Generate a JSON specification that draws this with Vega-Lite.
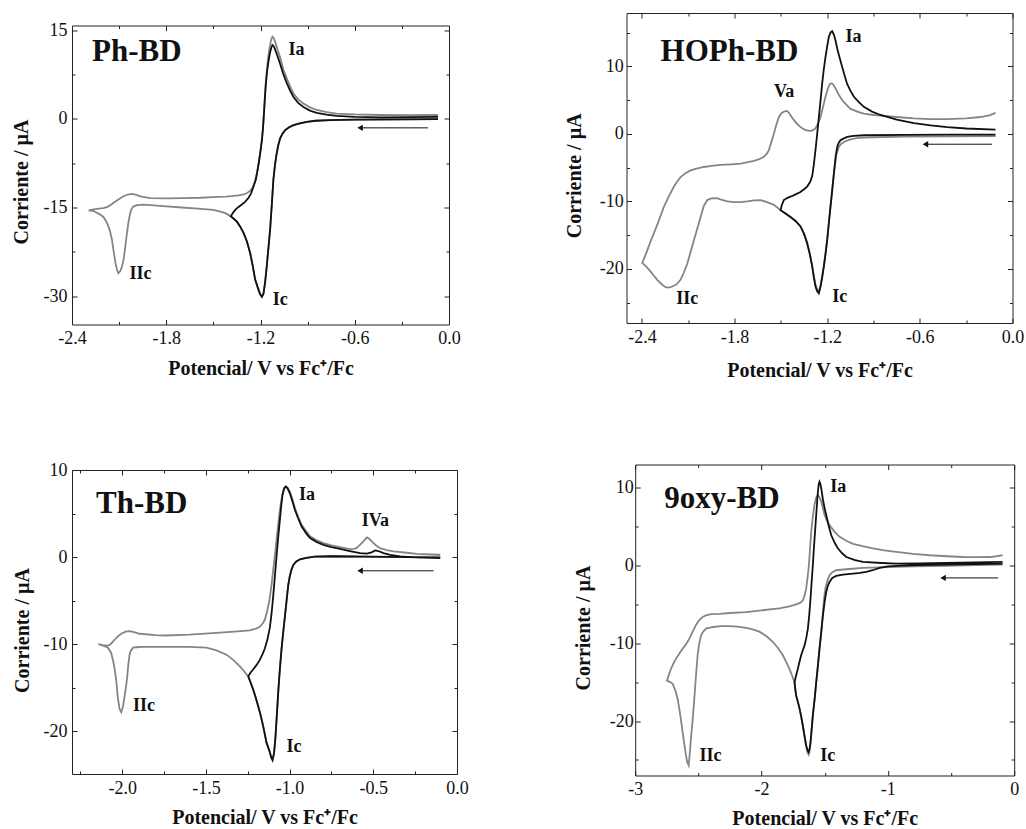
{
"$schema":"https://vega.github.io/schema/vega-lite/v6.json",
"padding":{"left":11,"top":12,"right":4,"bottom":0},
"spacing":94.5,
"hconcat":[
{"spacing":81,"vconcat":[
 {"bounds":"flush","spacing":11.5,"vconcat":[
  {"width":1,"height":1,"data":{"values":[]},"mark":"point","view":{"stroke":null}},
  {"width":377,"height":299,"resolve":{"axis":{"x":"independent","y":"independent"}},
   "layer":[
    {"data":{"values":[
{"x":-0.07,"y":-0.03},{"x":-0.3,"y":-0.07},{"x":-0.6,"y":-0.12},{"x":-0.757,"y":-0.2},{"x":-0.85,"y":-0.32},{"x":-0.905,"y":-0.5},{"x":-0.95,"y":-0.75},{"x":-0.99,"y":-1.06},{"x":-1.02,"y":-1.45},{"x":-1.043,"y":-1.9},{"x":-1.06,"y":-2.5},{"x":-1.075,"y":-3.3},{"x":-1.088,"y":-4.6},{"x":-1.1,"y":-6.3},{"x":-1.11,"y":-8.3},{"x":-1.118,"y":-10.3},{"x":-1.128,"y":-14.5},{"x":-1.139,"y":-18.8},{"x":-1.15,"y":-22.0},{"x":-1.16,"y":-24.9},{"x":-1.17,"y":-27.5},{"x":-1.181,"y":-29.6},{"x":-1.191,"y":-30.1},{"x":-1.202,"y":-29.7},{"x":-1.213,"y":-28.9},{"x":-1.234,"y":-27.2},{"x":-1.25,"y":-24.8},{"x":-1.266,"y":-22.7},{"x":-1.287,"y":-20.7},{"x":-1.308,"y":-19.3},{"x":-1.33,"y":-18.2},{"x":-1.35,"y":-17.4},{"x":-1.37,"y":-16.9},{"x":-1.389,"y":-16.5},
{"x":-1.42,"y":-16.0},{"x":-1.455,"y":-15.7},{"x":-1.5,"y":-15.4},{"x":-1.6,"y":-15.2},{"x":-1.7,"y":-15.0},{"x":-1.8,"y":-14.8},{"x":-1.9,"y":-14.6},{"x":-1.944,"y":-14.5},{"x":-1.985,"y":-14.6},{"x":-2.008,"y":-14.8},{"x":-2.02,"y":-15.2},{"x":-2.029,"y":-15.9},{"x":-2.04,"y":-17.4},{"x":-2.05,"y":-19.3},{"x":-2.06,"y":-21.5},{"x":-2.071,"y":-23.7},{"x":-2.082,"y":-25.0},{"x":-2.093,"y":-25.8},{"x":-2.105,"y":-26.1},{"x":-2.115,"y":-25.4},{"x":-2.124,"y":-24.3},{"x":-2.135,"y":-22.4},{"x":-2.146,"y":-20.4},{"x":-2.16,"y":-18.8},{"x":-2.177,"y":-17.6},{"x":-2.2,"y":-16.6},{"x":-2.22,"y":-16.2},{"x":-2.262,"y":-15.6},{"x":-2.294,"y":-15.5},
{"x":-2.262,"y":-15.3},{"x":-2.23,"y":-15.2},{"x":-2.2,"y":-15.1},{"x":-2.175,"y":-14.9},{"x":-2.156,"y":-14.6},{"x":-2.135,"y":-14.2},{"x":-2.114,"y":-13.8},{"x":-2.09,"y":-13.4},{"x":-2.071,"y":-13.1},{"x":-2.045,"y":-12.8},{"x":-2.018,"y":-12.7},{"x":-1.99,"y":-12.85},{"x":-1.965,"y":-13.1},{"x":-1.93,"y":-13.3},{"x":-1.9,"y":-13.4},{"x":-1.8,"y":-13.45},{"x":-1.69,"y":-13.4},{"x":-1.58,"y":-13.35},{"x":-1.478,"y":-13.2},{"x":-1.42,"y":-13.15},{"x":-1.372,"y":-13.05},{"x":-1.34,"y":-12.95},{"x":-1.308,"y":-12.8},{"x":-1.285,"y":-12.55},{"x":-1.266,"y":-12.2},{"x":-1.25,"y":-11.6},{"x":-1.238,"y":-10.8},{"x":-1.228,"y":-9.8},{"x":-1.218,"y":-8.5},{"x":-1.208,"y":-6.8},{"x":-1.198,"y":-4.8},{"x":-1.19,"y":-3.2},{"x":-1.183,"y":-1.0},{"x":-1.177,"y":1.5},{"x":-1.171,"y":4.2},{"x":-1.165,"y":6.6},{"x":-1.158,"y":8.7},{"x":-1.15,"y":10.6},{"x":-1.14,"y":12.4},{"x":-1.132,"y":13.4},{"x":-1.124,"y":13.9},{"x":-1.115,"y":13.6},{"x":-1.105,"y":12.9},{"x":-1.09,"y":11.6},{"x":-1.075,"y":10.4},{"x":-1.055,"y":8.4},{"x":-1.032,"y":6.8},{"x":-1.01,"y":5.4},{"x":-0.99,"y":4.3},{"x":-0.96,"y":3.3},{"x":-0.927,"y":2.6},{"x":-0.885,"y":1.95},{"x":-0.842,"y":1.5},{"x":-0.78,"y":1.15},{"x":-0.715,"y":0.9},{"x":-0.6,"y":0.75},{"x":-0.439,"y":0.65},{"x":-0.25,"y":0.62},{"x":-0.07,"y":0.65}
    ]},
     "mark":{"type":"line","color":"#858585","strokeWidth":1.8,"clip":true},
     "encoding":{
      "x":{"field":"x","type":"quantitative","scale":{"domain":[-2.4,0],"nice":false,"zero":false},
       "axis":{"orient":"bottom","title":"Potencial/ V vs Fc⁺/Fc","values":[-2.4,-2.1,-1.8,-1.5,-1.2,-0.9,-0.6,-0.3,0],
        "labelExpr":"abs(round(datum.value*10)) % 6 === 0 ? replace(format(datum.value, '.1f'), '−', '-') : ''",
        "tickSize":{"condition":{"test":"abs(round(datum.value*10)) % 6 === 0","value":-5},"value":-3},"labelPadding":10,
        "titleX":188.5,"titleY":44,"titleBaseline":"middle","titleAlign":"center"}},
      "y":{"field":"y","type":"quantitative","scale":{"domain":[-34.8,15.8],"nice":false,"zero":false},
       "axis":{"orient":"left","title":"Corriente / µA","values":[15,7.5,0,-7.5,-15,-22.5,-30],
        "labelExpr":"datum.value % 15 === 0 ? '' + datum.value : ''",
        "tickSize":{"condition":{"test":"datum.value % 15 === 0","value":-5},"value":-3},"labelPadding":10,
        "titleX":-50.2,"titleY":156,"titleBaseline":"middle","titleAlign":"center"}},
      "order":{"value":null}}},
    {"data":{"values":[
{"x":-0.07,"y":-0.03},{"x":-0.3,"y":-0.07},{"x":-0.6,"y":-0.12},{"x":-0.757,"y":-0.2},{"x":-0.85,"y":-0.32},{"x":-0.905,"y":-0.5},{"x":-0.95,"y":-0.75},{"x":-0.99,"y":-1.06},{"x":-1.02,"y":-1.45},{"x":-1.043,"y":-1.9},{"x":-1.06,"y":-2.5},{"x":-1.075,"y":-3.3},{"x":-1.088,"y":-4.6},{"x":-1.1,"y":-6.3},{"x":-1.11,"y":-8.3},{"x":-1.118,"y":-10.3},{"x":-1.128,"y":-14.5},{"x":-1.139,"y":-18.8},{"x":-1.15,"y":-22.0},{"x":-1.16,"y":-24.9},{"x":-1.17,"y":-27.5},{"x":-1.181,"y":-29.6},{"x":-1.191,"y":-30.1},{"x":-1.202,"y":-29.7},{"x":-1.213,"y":-28.9},{"x":-1.234,"y":-27.2},{"x":-1.25,"y":-24.8},{"x":-1.266,"y":-22.7},{"x":-1.287,"y":-20.7},{"x":-1.308,"y":-19.3},{"x":-1.33,"y":-18.2},{"x":-1.35,"y":-17.4},{"x":-1.37,"y":-16.9},{"x":-1.389,"y":-16.5},
{"x":-1.375,"y":-15.9},{"x":-1.361,"y":-15.4},{"x":-1.34,"y":-14.9},{"x":-1.319,"y":-14.5},{"x":-1.297,"y":-14.0},{"x":-1.277,"y":-13.4},{"x":-1.26,"y":-12.6},{"x":-1.245,"y":-11.5},{"x":-1.23,"y":-10.3},{"x":-1.22,"y":-8.9},{"x":-1.21,"y":-7.3},{"x":-1.2,"y":-5.5},{"x":-1.19,"y":-3.4},{"x":-1.183,"y":-1.2},{"x":-1.177,"y":1.3},{"x":-1.171,"y":4.0},{"x":-1.165,"y":6.2},{"x":-1.158,"y":8.0},{"x":-1.15,"y":9.6},{"x":-1.14,"y":11.1},{"x":-1.132,"y":12.0},{"x":-1.124,"y":12.5},{"x":-1.115,"y":12.3},{"x":-1.105,"y":11.6},{"x":-1.09,"y":10.5},{"x":-1.075,"y":9.3},{"x":-1.055,"y":7.6},{"x":-1.032,"y":6.0},{"x":-1.01,"y":4.7},{"x":-0.99,"y":3.7},{"x":-0.96,"y":2.7},{"x":-0.927,"y":2.0},{"x":-0.885,"y":1.4},{"x":-0.842,"y":1.0},{"x":-0.78,"y":0.7},{"x":-0.715,"y":0.5},{"x":-0.6,"y":0.35},{"x":-0.439,"y":0.25},{"x":-0.25,"y":0.28},{"x":-0.07,"y":0.35}
    ]},
     "mark":{"type":"line","color":"#111111","strokeWidth":1.8,"clip":true},
     "encoding":{"x":{"field":"x","type":"quantitative","scale":{"domain":[-2.4,0],"nice":false,"zero":false},"axis":null},
      "y":{"field":"y","type":"quantitative","scale":{"domain":[-34.8,15.8],"nice":false,"zero":false},"axis":null},"order":{"value":null}}},
    {"data":{"values":[{"x":-0.134,"x2":-0.566,"y":-1.52}]},"mark":{"type":"rule","color":"#111111","strokeWidth":1},
     "encoding":{"x":{"field":"x","type":"quantitative","scale":{"domain":[-2.4,0],"nice":false,"zero":false},"axis":null},"x2":{"field":"x2"},
      "y":{"field":"y","type":"quantitative","scale":{"domain":[-34.8,15.8],"nice":false,"zero":false},"axis":null}}},
    {"data":{"values":[{"x":-0.134,"x2":-0.566,"y":-1.52}]},"mark":{"type":"point","shape":"triangle-left","filled":true,"size":40,"color":"#111111","opacity":1},
     "encoding":{"x":{"field":"x2","type":"quantitative","scale":{"domain":[-2.4,0],"nice":false,"zero":false},"axis":null},
      "y":{"field":"y","type":"quantitative","scale":{"domain":[-34.8,15.8],"nice":false,"zero":false},"axis":null}}},
    {"data":{"values":[{"t":"Ia","x":-1.022,"y":11.6},{"t":"Ic","x":-1.122,"y":-30.7},{"t":"IIc","x":-2.034,"y":-26.2}]},
     "mark":{"type":"text","align":"left","baseline":"middle","fontSize":18,"fontWeight":"bold","font":"Liberation Serif","color":"#111111"},
     "encoding":{"text":{"field":"t"},
      "x":{"field":"x","type":"quantitative","scale":{"domain":[-2.4,0],"nice":false,"zero":false},
       "axis":{"orient":"top","labels":false,"title":null,"values":[-2.4,-2.1,-1.8,-1.5,-1.2,-0.9,-0.6,-0.3,0],"tickSize":{"condition":{"test":"abs(round(datum.value*10)) % 6 === 0","value":-5},"value":-3}}},
      "y":{"field":"y","type":"quantitative","scale":{"domain":[-34.8,15.8],"nice":false,"zero":false},
       "axis":{"orient":"right","labels":false,"title":null,"values":[15,7.5,0,-7.5,-15,-22.5,-30],"tickSize":{"condition":{"test":"datum.value % 15 === 0","value":-5},"value":-3}}}}},
    {"data":{"values":[{"t":"Ph-BD","x":-2.273,"y":11.4}]},
     "mark":{"type":"text","align":"left","baseline":"middle","fontSize":31,"fontWeight":"bold","font":"Liberation Serif","color":"#111111"},
     "encoding":{"text":{"field":"t"},
      "x":{"field":"x","type":"quantitative","scale":{"domain":[-2.4,0],"nice":false,"zero":false},"axis":null},
      "y":{"field":"y","type":"quantitative","scale":{"domain":[-34.8,15.8],"nice":false,"zero":false},"axis":null}}}
   ]}
 ]},
 {"width":385,"height":304,"resolve":{"axis":{"x":"independent","y":"independent"}},
  "layer":[
   {"data":{"values":[
{"x":-0.1,"y":0.05},{"x":-0.3,"y":0.02},{"x":-0.55,"y":0.06},{"x":-0.75,"y":0.1},{"x":-0.85,"y":0.05},{"x":-0.9,"y":-0.1},{"x":-0.938,"y":-0.25},{"x":-0.96,"y":-0.5},{"x":-0.978,"y":-0.9},{"x":-0.99,"y":-1.5},{"x":-1.0,"y":-2.3},{"x":-1.008,"y":-3.2},{"x":-1.018,"y":-5.0},{"x":-1.028,"y":-6.8},{"x":-1.038,"y":-8.6},{"x":-1.048,"y":-10.5},{"x":-1.058,"y":-12.8},{"x":-1.068,"y":-15.5},{"x":-1.078,"y":-18.7},{"x":-1.085,"y":-20.8},{"x":-1.093,"y":-22.5},{"x":-1.102,"y":-23.3},{"x":-1.11,"y":-23.0},{"x":-1.118,"y":-22.4},{"x":-1.138,"y":-21.3},{"x":-1.158,"y":-19.4},{"x":-1.175,"y":-18.0},{"x":-1.188,"y":-17.1},{"x":-1.203,"y":-16.1},{"x":-1.218,"y":-15.2},{"x":-1.233,"y":-14.4},{"x":-1.247,"y":-13.7},
{"x":-1.272,"y":-13.1},{"x":-1.297,"y":-12.55},{"x":-1.337,"y":-11.8},{"x":-1.377,"y":-11.2},{"x":-1.437,"y":-10.7},{"x":-1.497,"y":-10.4},{"x":-1.6,"y":-10.3},{"x":-1.697,"y":-10.3},{"x":-1.8,"y":-10.3},{"x":-1.876,"y":-10.3},{"x":-1.915,"y":-10.35},{"x":-1.936,"y":-10.4},{"x":-1.95,"y":-10.8},{"x":-1.957,"y":-11.3},{"x":-1.965,"y":-12.6},{"x":-1.972,"y":-14.1},{"x":-1.985,"y":-15.9},{"x":-1.996,"y":-17.2},{"x":-2.006,"y":-17.8},{"x":-2.016,"y":-17.4},{"x":-2.026,"y":-16.2},{"x":-2.036,"y":-14.1},{"x":-2.05,"y":-12.3},{"x":-2.066,"y":-11.0},{"x":-2.085,"y":-10.4},{"x":-2.11,"y":-10.2},{"x":-2.142,"y":-10.0},
{"x":-2.116,"y":-10.1},{"x":-2.095,"y":-10.15},{"x":-2.076,"y":-10.1},{"x":-2.06,"y":-9.8},{"x":-2.046,"y":-9.5},{"x":-2.026,"y":-9.1},{"x":-2.006,"y":-8.8},{"x":-1.98,"y":-8.55},{"x":-1.956,"y":-8.5},{"x":-1.93,"y":-8.6},{"x":-1.896,"y":-8.8},{"x":-1.8,"y":-8.95},{"x":-1.737,"y":-9.0},{"x":-1.6,"y":-8.9},{"x":-1.437,"y":-8.7},{"x":-1.33,"y":-8.55},{"x":-1.238,"y":-8.4},{"x":-1.2,"y":-8.2},{"x":-1.178,"y":-8.0},{"x":-1.16,"y":-7.6},{"x":-1.148,"y":-7.2},{"x":-1.135,"y":-6.3},{"x":-1.12,"y":-4.9},{"x":-1.108,"y":-3.2},{"x":-1.098,"y":-1.5},{"x":-1.088,"y":0.2},{"x":-1.078,"y":2.0},{"x":-1.068,"y":3.8},{"x":-1.058,"y":5.4},{"x":-1.048,"y":6.7},{"x":-1.038,"y":7.6},{"x":-1.03,"y":8.0},{"x":-1.022,"y":8.1},{"x":-1.012,"y":7.95},{"x":-0.998,"y":7.5},{"x":-0.983,"y":6.6},{"x":-0.968,"y":5.6},{"x":-0.948,"y":4.6},{"x":-0.928,"y":3.7},{"x":-0.9,"y":2.95},{"x":-0.878,"y":2.4},{"x":-0.84,"y":1.95},{"x":-0.798,"y":1.6},{"x":-0.75,"y":1.35},{"x":-0.699,"y":1.15},{"x":-0.639,"y":0.92},{"x":-0.615,"y":0.95},{"x":-0.599,"y":1.05},{"x":-0.58,"y":1.4},{"x":-0.559,"y":1.8},{"x":-0.539,"y":2.26},{"x":-0.524,"y":2.1},{"x":-0.509,"y":1.8},{"x":-0.485,"y":1.35},{"x":-0.459,"y":1.03},{"x":-0.42,"y":0.8},{"x":-0.379,"y":0.65},{"x":-0.3,"y":0.5},{"x":-0.24,"y":0.38},{"x":-0.1,"y":0.27}
   ]},
    "mark":{"type":"line","color":"#858585","strokeWidth":1.8,"clip":true},
    "encoding":{
     "x":{"field":"x","type":"quantitative","scale":{"domain":[-2.3,0],"nice":false,"zero":false},
      "axis":{"orient":"bottom","title":"Potencial/ V vs Fc⁺/Fc","values":[-2.25,-2.0,-1.75,-1.5,-1.25,-1.0,-0.75,-0.5,-0.25,0],
       "labelExpr":"abs(round(datum.value*100)) % 50 === 0 ? replace(format(datum.value, '.1f'), '−', '-') : ''",
       "tickSize":{"condition":{"test":"abs(round(datum.value*100)) % 50 === 0","value":-5},"value":-3},"labelPadding":10,
       "titleX":192.5,"titleY":43,"titleBaseline":"middle","titleAlign":"center"}},
     "y":{"field":"y","type":"quantitative","scale":{"domain":[-24.9,10],"nice":false,"zero":false},
      "axis":{"orient":"left","title":"Corriente / µA","values":[10,5,0,-5,-10,-15,-20],
       "labelExpr":"datum.value % 10 === 0 ? '' + datum.value : ''",
       "tickSize":{"condition":{"test":"datum.value % 10 === 0","value":-5},"value":-3},"labelPadding":10,
       "titleX":-50,"titleY":160,"titleBaseline":"middle","titleAlign":"center"}},
     "order":{"value":null}}},
   {"data":{"values":[
{"x":-0.1,"y":-0.08},{"x":-0.3,"y":0.0},{"x":-0.55,"y":0.06},{"x":-0.75,"y":0.1},{"x":-0.85,"y":0.05},{"x":-0.9,"y":-0.1},{"x":-0.938,"y":-0.25},{"x":-0.96,"y":-0.5},{"x":-0.978,"y":-0.9},{"x":-0.99,"y":-1.5},{"x":-1.0,"y":-2.3},{"x":-1.008,"y":-3.2},{"x":-1.018,"y":-5.0},{"x":-1.028,"y":-6.8},{"x":-1.038,"y":-8.6},{"x":-1.048,"y":-10.5},{"x":-1.058,"y":-12.8},{"x":-1.068,"y":-15.5},{"x":-1.078,"y":-18.7},{"x":-1.085,"y":-20.8},{"x":-1.093,"y":-22.5},{"x":-1.102,"y":-23.3},{"x":-1.11,"y":-23.0},{"x":-1.118,"y":-22.4},{"x":-1.138,"y":-21.3},{"x":-1.158,"y":-19.4},{"x":-1.175,"y":-18.0},{"x":-1.188,"y":-17.1},{"x":-1.203,"y":-16.1},{"x":-1.218,"y":-15.2},{"x":-1.233,"y":-14.4},{"x":-1.247,"y":-13.7},
{"x":-1.235,"y":-13.3},{"x":-1.218,"y":-12.9},{"x":-1.198,"y":-12.4},{"x":-1.178,"y":-11.8},{"x":-1.163,"y":-11.2},{"x":-1.148,"y":-10.5},{"x":-1.133,"y":-9.5},{"x":-1.118,"y":-8.1},{"x":-1.108,"y":-6.5},{"x":-1.098,"y":-4.5},{"x":-1.088,"y":-2.2},{"x":-1.078,"y":0.1},{"x":-1.068,"y":2.3},{"x":-1.058,"y":4.3},{"x":-1.05,"y":5.9},{"x":-1.042,"y":7.2},{"x":-1.032,"y":7.9},{"x":-1.022,"y":8.1},{"x":-1.012,"y":7.9},{"x":-0.998,"y":7.3},{"x":-0.983,"y":6.4},{"x":-0.968,"y":5.4},{"x":-0.948,"y":4.4},{"x":-0.928,"y":3.5},{"x":-0.9,"y":2.7},{"x":-0.878,"y":2.2},{"x":-0.84,"y":1.75},{"x":-0.798,"y":1.4},{"x":-0.75,"y":1.15},{"x":-0.699,"y":0.95},{"x":-0.64,"y":0.7},{"x":-0.579,"y":0.46},{"x":-0.539,"y":0.4},{"x":-0.51,"y":0.55},{"x":-0.489,"y":0.77},{"x":-0.47,"y":0.7},{"x":-0.439,"y":0.46},{"x":-0.4,"y":0.25},{"x":-0.339,"y":0.08},{"x":-0.25,"y":-0.02},{"x":-0.1,"y":-0.1}
   ]},
    "mark":{"type":"line","color":"#111111","strokeWidth":1.8,"clip":true},
    "encoding":{"x":{"field":"x","type":"quantitative","scale":{"domain":[-2.3,0],"nice":false,"zero":false},"axis":null},
     "y":{"field":"y","type":"quantitative","scale":{"domain":[-24.9,10],"nice":false,"zero":false},"axis":null},"order":{"value":null}}},
   {"data":{"values":[{"x":-0.14,"x2":-0.579,"y":-1.57}]},"mark":{"type":"rule","color":"#111111","strokeWidth":1},
    "encoding":{"x":{"field":"x","type":"quantitative","scale":{"domain":[-2.3,0],"nice":false,"zero":false},"axis":null},"x2":{"field":"x2"},
     "y":{"field":"y","type":"quantitative","scale":{"domain":[-24.9,10],"nice":false,"zero":false},"axis":null}}},
   {"data":{"values":[{"x":-0.14,"x2":-0.579,"y":-1.57}]},"mark":{"type":"point","shape":"triangle-left","filled":true,"size":40,"color":"#111111","opacity":1},
    "encoding":{"x":{"field":"x2","type":"quantitative","scale":{"domain":[-2.3,0],"nice":false,"zero":false},"axis":null},
     "y":{"field":"y","type":"quantitative","scale":{"domain":[-24.9,10],"nice":false,"zero":false},"axis":null}}},
   {"data":{"values":[{"t":"Ia","x":-0.944,"y":7.1},{"t":"IVa","x":-0.569,"y":4.2},{"t":"Ic","x":-1.018,"y":-21.8},{"t":"IIc","x":-1.936,"y":-17.1}]},
    "mark":{"type":"text","align":"left","baseline":"middle","fontSize":18,"fontWeight":"bold","font":"Liberation Serif","color":"#111111"},
    "encoding":{"text":{"field":"t"},
     "x":{"field":"x","type":"quantitative","scale":{"domain":[-2.3,0],"nice":false,"zero":false},
      "axis":{"orient":"top","labels":false,"title":null,"values":[-2.25,-2.0,-1.75,-1.5,-1.25,-1.0,-0.75,-0.5,-0.25,0],"tickSize":{"condition":{"test":"abs(round(datum.value*100)) % 50 === 0","value":-5},"value":-3}}},
     "y":{"field":"y","type":"quantitative","scale":{"domain":[-24.9,10],"nice":false,"zero":false},
      "axis":{"orient":"right","labels":false,"title":null,"values":[10,5,0,-5,-10,-15,-20],"tickSize":{"condition":{"test":"datum.value % 10 === 0","value":-5},"value":-3}}}}},
   {"data":{"values":[{"t":"Th-BD","x":-2.156,"y":6.1}]},
    "mark":{"type":"text","align":"left","baseline":"middle","fontSize":31,"fontWeight":"bold","font":"Liberation Serif","color":"#111111"},
    "encoding":{"text":{"field":"t"},
     "x":{"field":"x","type":"quantitative","scale":{"domain":[-2.3,0],"nice":false,"zero":false},"axis":null},
     "y":{"field":"y","type":"quantitative","scale":{"domain":[-24.9,10],"nice":false,"zero":false},"axis":null}}}
  ]}
]},
{"spacing":82.5,"vconcat":[
 {"width":386,"height":310,"resolve":{"axis":{"x":"independent","y":"independent"}},
  "layer":[
   {"data":{"values":[
{"x":-0.11,"y":-0.34},{"x":-0.4,"y":-0.36},{"x":-0.7,"y":-0.4},{"x":-0.9,"y":-0.5},{"x":-1.0,"y":-0.6},{"x":-1.027,"y":-0.7},{"x":-1.06,"y":-0.9},{"x":-1.092,"y":-1.2},{"x":-1.11,"y":-1.5},{"x":-1.124,"y":-1.9},{"x":-1.14,"y":-3.0},{"x":-1.157,"y":-5.9},{"x":-1.168,"y":-8.4},{"x":-1.179,"y":-10.8},{"x":-1.19,"y":-13.3},{"x":-1.2,"y":-15.6},{"x":-1.211,"y":-17.6},{"x":-1.222,"y":-19.5},{"x":-1.233,"y":-21.1},{"x":-1.243,"y":-22.4},{"x":-1.254,"y":-23.3},{"x":-1.265,"y":-23.0},{"x":-1.276,"y":-22.3},{"x":-1.287,"y":-21.0},{"x":-1.297,"y":-19.5},{"x":-1.313,"y":-17.7},{"x":-1.33,"y":-16.1},{"x":-1.35,"y":-14.8},{"x":-1.373,"y":-13.7},{"x":-1.405,"y":-12.9},{"x":-1.438,"y":-12.3},{"x":-1.47,"y":-11.8},{"x":-1.502,"y":-11.3},{"x":-1.545,"y":-10.5},{"x":-1.59,"y":-10.1},{"x":-1.632,"y":-9.8},{"x":-1.675,"y":-9.85},{"x":-1.718,"y":-10.0},{"x":-1.76,"y":-10.1},{"x":-1.804,"y":-10.1},{"x":-1.847,"y":-10.0},{"x":-1.87,"y":-9.85},{"x":-1.891,"y":-9.7},{"x":-1.91,"y":-9.55},{"x":-1.934,"y":-9.5},{"x":-1.955,"y":-9.6},{"x":-1.977,"y":-9.8},{"x":-2.0,"y":-10.7},{"x":-2.02,"y":-12.3},{"x":-2.04,"y":-13.9},{"x":-2.063,"y":-15.7},{"x":-2.085,"y":-17.5},{"x":-2.106,"y":-19.2},{"x":-2.128,"y":-20.5},{"x":-2.15,"y":-21.6},{"x":-2.177,"y":-22.3},{"x":-2.204,"y":-22.6},{"x":-2.225,"y":-22.75},{"x":-2.247,"y":-22.7},{"x":-2.27,"y":-22.3},{"x":-2.301,"y":-21.6},{"x":-2.322,"y":-21.0},{"x":-2.344,"y":-20.4},{"x":-2.37,"y":-19.7},{"x":-2.398,"y":-19.1},
{"x":-2.38,"y":-18.1},{"x":-2.365,"y":-17.2},{"x":-2.344,"y":-15.9},{"x":-2.322,"y":-14.7},{"x":-2.29,"y":-12.8},{"x":-2.258,"y":-10.8},{"x":-2.225,"y":-9.2},{"x":-2.193,"y":-7.8},{"x":-2.17,"y":-7.0},{"x":-2.15,"y":-6.4},{"x":-2.12,"y":-5.85},{"x":-2.085,"y":-5.4},{"x":-2.04,"y":-5.1},{"x":-1.999,"y":-4.9},{"x":-1.95,"y":-4.75},{"x":-1.891,"y":-4.6},{"x":-1.82,"y":-4.5},{"x":-1.761,"y":-4.4},{"x":-1.72,"y":-4.2},{"x":-1.675,"y":-4.0},{"x":-1.64,"y":-3.75},{"x":-1.61,"y":-3.4},{"x":-1.59,"y":-2.9},{"x":-1.578,"y":-2.4},{"x":-1.562,"y":-1.2},{"x":-1.545,"y":0.05},{"x":-1.53,"y":1.3},{"x":-1.513,"y":2.5},{"x":-1.495,"y":3.1},{"x":-1.475,"y":3.35},{"x":-1.463,"y":3.4},{"x":-1.45,"y":3.2},{"x":-1.427,"y":2.4},{"x":-1.4,"y":1.6},{"x":-1.373,"y":1.0},{"x":-1.345,"y":0.6},{"x":-1.319,"y":0.44},{"x":-1.297,"y":0.5},{"x":-1.276,"y":0.8},{"x":-1.26,"y":1.5},{"x":-1.243,"y":2.5},{"x":-1.227,"y":4.0},{"x":-1.211,"y":5.5},{"x":-1.195,"y":6.8},{"x":-1.182,"y":7.4},{"x":-1.17,"y":7.5},{"x":-1.158,"y":7.2},{"x":-1.146,"y":6.7},{"x":-1.125,"y":5.8},{"x":-1.103,"y":5.0},{"x":-1.075,"y":4.3},{"x":-1.049,"y":3.7},{"x":-1.0,"y":3.25},{"x":-0.963,"y":3.0},{"x":-0.9,"y":2.8},{"x":-0.855,"y":2.7},{"x":-0.75,"y":2.5},{"x":-0.639,"y":2.3},{"x":-0.53,"y":2.2},{"x":-0.423,"y":2.2},{"x":-0.3,"y":2.3},{"x":-0.207,"y":2.5},{"x":-0.15,"y":2.75},{"x":-0.11,"y":3.1}
   ]},
    "mark":{"type":"line","color":"#858585","strokeWidth":1.8,"clip":true},
    "encoding":{
     "x":{"field":"x","type":"quantitative","scale":{"domain":[-2.5,0],"nice":false,"zero":false},
      "axis":{"orient":"bottom","title":"Potencial/ V vs Fc⁺/Fc","values":[-2.4,-2.1,-1.8,-1.5,-1.2,-0.9,-0.6,-0.3,0],
       "labelExpr":"abs(round(datum.value*10)) % 6 === 0 ? replace(format(datum.value, '.1f'), '−', '-') : ''",
       "tickSize":{"condition":{"test":"abs(round(datum.value*10)) % 6 === 0","value":-5},"value":-3},"labelPadding":10,
       "titleX":193,"titleY":47,"titleBaseline":"middle","titleAlign":"center"}},
     "y":{"field":"y","type":"quantitative","scale":{"domain":[-28,17.9],"nice":false,"zero":false},
      "axis":{"orient":"left","title":"Corriente / µA","values":[15,10,5,0,-5,-10,-15,-20,-25],
       "labelExpr":"datum.value % 10 === 0 ? '' + datum.value : ''",
       "tickSize":{"condition":{"test":"datum.value % 10 === 0","value":-5},"value":-3},"labelPadding":8.3,
       "titleX":-51.6,"titleY":162.3,"titleBaseline":"middle","titleAlign":"center"}},
     "order":{"value":null}}},
   {"data":{"values":[
{"x":-0.11,"y":-0.1},{"x":-0.4,"y":-0.12},{"x":-0.7,"y":-0.15},{"x":-0.96,"y":-0.2},{"x":-1.03,"y":-0.3},{"x":-1.07,"y":-0.44},{"x":-1.095,"y":-0.7},{"x":-1.114,"y":-0.94},{"x":-1.125,"y":-1.3},{"x":-1.135,"y":-1.9},{"x":-1.146,"y":-3.4},{"x":-1.157,"y":-5.9},{"x":-1.168,"y":-8.4},{"x":-1.179,"y":-10.8},{"x":-1.19,"y":-13.3},{"x":-1.2,"y":-15.7},{"x":-1.211,"y":-17.8},{"x":-1.222,"y":-19.7},{"x":-1.233,"y":-21.3},{"x":-1.243,"y":-22.6},{"x":-1.254,"y":-23.6},{"x":-1.265,"y":-23.3},{"x":-1.276,"y":-22.6},{"x":-1.287,"y":-21.2},{"x":-1.297,"y":-19.7},{"x":-1.313,"y":-17.8},{"x":-1.33,"y":-16.2},{"x":-1.35,"y":-14.8},{"x":-1.373,"y":-13.7},{"x":-1.405,"y":-12.9},{"x":-1.438,"y":-12.3},{"x":-1.47,"y":-11.8},{"x":-1.502,"y":-11.3},
{"x":-1.495,"y":-10.6},{"x":-1.481,"y":-9.8},{"x":-1.46,"y":-9.5},{"x":-1.438,"y":-9.3},{"x":-1.405,"y":-8.95},{"x":-1.373,"y":-8.6},{"x":-1.35,"y":-8.2},{"x":-1.33,"y":-7.8},{"x":-1.31,"y":-7.1},{"x":-1.297,"y":-6.2},{"x":-1.287,"y":-4.6},{"x":-1.276,"y":-2.4},{"x":-1.265,"y":0.0},{"x":-1.254,"y":2.5},{"x":-1.243,"y":5.0},{"x":-1.233,"y":7.4},{"x":-1.222,"y":9.6},{"x":-1.211,"y":11.4},{"x":-1.2,"y":13.0},{"x":-1.19,"y":14.3},{"x":-1.179,"y":15.0},{"x":-1.168,"y":15.2},{"x":-1.157,"y":14.7},{"x":-1.146,"y":13.8},{"x":-1.135,"y":12.6},{"x":-1.12,"y":11.3},{"x":-1.103,"y":9.9},{"x":-1.087,"y":8.6},{"x":-1.071,"y":7.4},{"x":-1.05,"y":6.4},{"x":-1.027,"y":5.5},{"x":-0.995,"y":4.7},{"x":-0.963,"y":4.0},{"x":-0.91,"y":3.3},{"x":-0.855,"y":2.8},{"x":-0.75,"y":2.1},{"x":-0.639,"y":1.6},{"x":-0.53,"y":1.25},{"x":-0.423,"y":1.0},{"x":-0.3,"y":0.8},{"x":-0.11,"y":0.64}
   ]},
    "mark":{"type":"line","color":"#111111","strokeWidth":1.8,"clip":true},
    "encoding":{"x":{"field":"x","type":"quantitative","scale":{"domain":[-2.5,0],"nice":false,"zero":false},"axis":null},
     "y":{"field":"y","type":"quantitative","scale":{"domain":[-28,17.9],"nice":false,"zero":false},"axis":null},"order":{"value":null}}},
   {"data":{"values":[{"x":-0.132,"x2":-0.564,"y":-1.53}]},"mark":{"type":"rule","color":"#111111","strokeWidth":1},
    "encoding":{"x":{"field":"x","type":"quantitative","scale":{"domain":[-2.5,0],"nice":false,"zero":false},"axis":null},"x2":{"field":"x2"},
     "y":{"field":"y","type":"quantitative","scale":{"domain":[-28,17.9],"nice":false,"zero":false},"axis":null}}},
   {"data":{"values":[{"x":-0.132,"x2":-0.564,"y":-1.53}]},"mark":{"type":"point","shape":"triangle-left","filled":true,"size":40,"color":"#111111","opacity":1},
    "encoding":{"x":{"field":"x2","type":"quantitative","scale":{"domain":[-2.5,0],"nice":false,"zero":false},"axis":null},
     "y":{"field":"y","type":"quantitative","scale":{"domain":[-28,17.9],"nice":false,"zero":false},"axis":null}}},
   {"data":{"values":[{"t":"Ia","x":-1.081,"y":14.3},{"t":"Va","x":-1.545,"y":6.2},{"t":"Ic","x":-1.168,"y":-24.2},{"t":"IIc","x":-2.178,"y":-24.4}]},
    "mark":{"type":"text","align":"left","baseline":"middle","fontSize":18,"fontWeight":"bold","font":"Liberation Serif","color":"#111111"},
    "encoding":{"text":{"field":"t"},
     "x":{"field":"x","type":"quantitative","scale":{"domain":[-2.5,0],"nice":false,"zero":false},
      "axis":{"orient":"top","labels":false,"title":null,"values":[-2.4,-2.1,-1.8,-1.5,-1.2,-0.9,-0.6,-0.3,0],"tickSize":{"condition":{"test":"abs(round(datum.value*10)) % 6 === 0","value":-5},"value":-3}}},
     "y":{"field":"y","type":"quantitative","scale":{"domain":[-28,17.9],"nice":false,"zero":false},
      "axis":{"orient":"right","labels":false,"title":null,"values":[15,10,5,0,-5,-10,-15,-20,-25],"tickSize":{"condition":{"test":"datum.value % 10 === 0","value":-5},"value":-3}}}}},
   {"data":{"values":[{"t":"HOPh-BD","x":-2.279,"y":12.1}]},
    "mark":{"type":"text","align":"left","baseline":"middle","fontSize":31,"fontWeight":"bold","font":"Liberation Serif","color":"#111111"},
    "encoding":{"text":{"field":"t"},
     "x":{"field":"x","type":"quantitative","scale":{"domain":[-2.5,0],"nice":false,"zero":false},"axis":null},
     "y":{"field":"y","type":"quantitative","scale":{"domain":[-28,17.9],"nice":false,"zero":false},"axis":null}}}
  ]},
 {"bounds":"flush","spacing":7.7,"hconcat":[
  {"width":1,"height":1,"data":{"values":[]},"mark":"point","view":{"stroke":null}},
  {"width":379,"height":311,"resolve":{"axis":{"x":"independent","y":"independent"}},
   "layer":[
    {"data":{"values":[
{"x":-0.092,"y":0.13},{"x":-0.3,"y":0.05},{"x":-0.536,"y":-0.04},{"x":-0.8,"y":-0.1},{"x":-1.0,"y":-0.2},{"x":-1.197,"y":-0.3},{"x":-1.329,"y":-0.47},{"x":-1.409,"y":-0.6},{"x":-1.44,"y":-0.85},{"x":-1.462,"y":-1.24},{"x":-1.48,"y":-2.0},{"x":-1.494,"y":-2.9},{"x":-1.505,"y":-4.2},{"x":-1.516,"y":-6.4},{"x":-1.527,"y":-8.5},{"x":-1.541,"y":-10.7},{"x":-1.554,"y":-12.9},{"x":-1.567,"y":-15.0},{"x":-1.58,"y":-17.2},{"x":-1.594,"y":-19.3},{"x":-1.603,"y":-21.0},{"x":-1.612,"y":-22.8},{"x":-1.62,"y":-23.9},{"x":-1.627,"y":-24.3},{"x":-1.637,"y":-24.0},{"x":-1.647,"y":-23.2},{"x":-1.66,"y":-21.9},{"x":-1.673,"y":-20.6},{"x":-1.699,"y":-18.4},{"x":-1.726,"y":-16.7},{"x":-1.739,"y":-15.0},{"x":-1.759,"y":-14.1},{"x":-1.779,"y":-13.3},{"x":-1.805,"y":-12.4},{"x":-1.832,"y":-11.5},{"x":-1.87,"y":-10.6},{"x":-1.911,"y":-9.8},{"x":-1.96,"y":-9.1},{"x":-2.017,"y":-8.5},{"x":-2.07,"y":-8.2},{"x":-2.122,"y":-8.0},{"x":-2.19,"y":-7.85},{"x":-2.255,"y":-7.8},{"x":-2.32,"y":-7.8},{"x":-2.387,"y":-7.9},{"x":-2.415,"y":-8.0},{"x":-2.44,"y":-8.1},{"x":-2.462,"y":-8.5},{"x":-2.479,"y":-9.0},{"x":-2.493,"y":-10.0},{"x":-2.506,"y":-11.5},{"x":-2.519,"y":-14.2},{"x":-2.532,"y":-17.1},{"x":-2.545,"y":-19.8},{"x":-2.559,"y":-22.3},{"x":-2.568,"y":-24.2},{"x":-2.577,"y":-25.7},{"x":-2.588,"y":-25.3},{"x":-2.598,"y":-24.4},{"x":-2.611,"y":-23.0},{"x":-2.625,"y":-21.4},{"x":-2.638,"y":-19.8},{"x":-2.651,"y":-18.4},{"x":-2.664,"y":-17.2},{"x":-2.678,"y":-16.3},{"x":-2.691,"y":-15.7},{"x":-2.704,"y":-15.2},{"x":-2.725,"y":-14.95},{"x":-2.749,"y":-14.8},
{"x":-2.735,"y":-14.1},{"x":-2.717,"y":-13.3},{"x":-2.698,"y":-12.6},{"x":-2.678,"y":-12.0},{"x":-2.65,"y":-11.3},{"x":-2.625,"y":-10.7},{"x":-2.605,"y":-10.3},{"x":-2.585,"y":-9.8},{"x":-2.565,"y":-9.2},{"x":-2.545,"y":-8.5},{"x":-2.518,"y":-7.6},{"x":-2.492,"y":-7.0},{"x":-2.465,"y":-6.6},{"x":-2.44,"y":-6.4},{"x":-2.4,"y":-6.25},{"x":-2.334,"y":-6.2},{"x":-2.25,"y":-6.1},{"x":-2.122,"y":-6.0},{"x":-2.0,"y":-5.75},{"x":-1.858,"y":-5.5},{"x":-1.78,"y":-5.25},{"x":-1.726,"y":-5.0},{"x":-1.695,"y":-4.8},{"x":-1.673,"y":-4.5},{"x":-1.66,"y":-3.9},{"x":-1.647,"y":-3.0},{"x":-1.636,"y":-1.6},{"x":-1.625,"y":0.04},{"x":-1.616,"y":2.2},{"x":-1.607,"y":4.3},{"x":-1.594,"y":6.3},{"x":-1.581,"y":7.8},{"x":-1.568,"y":8.7},{"x":-1.554,"y":9.1},{"x":-1.541,"y":8.8},{"x":-1.527,"y":8.2},{"x":-1.514,"y":7.4},{"x":-1.501,"y":6.5},{"x":-1.482,"y":5.8},{"x":-1.462,"y":5.2},{"x":-1.42,"y":4.3},{"x":-1.382,"y":3.7},{"x":-1.33,"y":3.2},{"x":-1.276,"y":2.8},{"x":-1.2,"y":2.5},{"x":-1.118,"y":2.2},{"x":-1.03,"y":1.95},{"x":-0.933,"y":1.76},{"x":-0.8,"y":1.5},{"x":-0.669,"y":1.33},{"x":-0.53,"y":1.2},{"x":-0.404,"y":1.1},{"x":-0.3,"y":1.08},{"x":-0.193,"y":1.1},{"x":-0.14,"y":1.2},{"x":-0.092,"y":1.33}
    ]},
     "mark":{"type":"line","color":"#858585","strokeWidth":1.8,"clip":true},
     "encoding":{
      "x":{"field":"x","type":"quantitative","scale":{"domain":[-3,0],"nice":false,"zero":false},
       "axis":{"orient":"bottom","title":"Potencial/ V vs Fc⁺/Fc","values":[-3,-2.5,-2,-1.5,-1,-0.5,0],
        "labelExpr":"datum.value % 1 === 0 ? '' + datum.value : ''",
        "tickSize":{"condition":{"test":"datum.value % 1 === 0","value":-5},"value":-3},"labelPadding":10,
        "titleX":189.5,"titleY":43,"titleBaseline":"middle","titleAlign":"center"}},
      "y":{"field":"y","type":"quantitative","scale":{"domain":[-27,13],"nice":false,"zero":false},
       "axis":{"orient":"left","title":"Corriente / µA","values":[10,5,0,-5,-10,-15,-20,-25],
        "labelExpr":"datum.value % 10 === 0 ? '' + datum.value : ''",
        "tickSize":{"condition":{"test":"datum.value % 10 === 0","value":-5},"value":-3},"labelPadding":7,
        "titleX":-52,"titleY":163,"titleBaseline":"middle","titleAlign":"center"}},
      "order":{"value":null}}},
    {"data":{"values":[
{"x":-0.092,"y":0.26},{"x":-0.3,"y":0.2},{"x":-0.536,"y":0.13},{"x":-0.75,"y":0.05},{"x":-0.933,"y":-0.04},{"x":-1.0,"y":-0.1},{"x":-1.065,"y":-0.3},{"x":-1.12,"y":-0.6},{"x":-1.171,"y":-0.8},{"x":-1.22,"y":-0.95},{"x":-1.276,"y":-1.03},{"x":-1.356,"y":-1.16},{"x":-1.409,"y":-1.33},{"x":-1.44,"y":-1.6},{"x":-1.462,"y":-2.1},{"x":-1.475,"y":-2.6},{"x":-1.488,"y":-3.4},{"x":-1.5,"y":-4.6},{"x":-1.514,"y":-6.4},{"x":-1.527,"y":-8.5},{"x":-1.541,"y":-10.7},{"x":-1.554,"y":-12.9},{"x":-1.567,"y":-15.0},{"x":-1.58,"y":-17.2},{"x":-1.594,"y":-19.3},{"x":-1.603,"y":-21.0},{"x":-1.612,"y":-22.7},{"x":-1.62,"y":-23.6},{"x":-1.627,"y":-24.0},{"x":-1.635,"y":-23.8},{"x":-1.647,"y":-23.1},{"x":-1.66,"y":-21.9},{"x":-1.673,"y":-20.6},{"x":-1.686,"y":-19.4},{"x":-1.699,"y":-18.4},{"x":-1.713,"y":-17.5},{"x":-1.726,"y":-16.7},{"x":-1.733,"y":-15.9},{"x":-1.739,"y":-15.0},
{"x":-1.726,"y":-14.1},{"x":-1.713,"y":-13.3},{"x":-1.7,"y":-12.4},{"x":-1.686,"y":-11.5},{"x":-1.673,"y":-10.9},{"x":-1.66,"y":-10.3},{"x":-1.647,"y":-9.4},{"x":-1.633,"y":-8.1},{"x":-1.622,"y":-6.3},{"x":-1.612,"y":-4.2},{"x":-1.603,"y":-2.0},{"x":-1.594,"y":0.04},{"x":-1.584,"y":2.6},{"x":-1.573,"y":5.2},{"x":-1.563,"y":7.5},{"x":-1.554,"y":9.5},{"x":-1.547,"y":10.5},{"x":-1.541,"y":10.8},{"x":-1.534,"y":10.5},{"x":-1.527,"y":9.9},{"x":-1.514,"y":8.5},{"x":-1.5,"y":7.3},{"x":-1.488,"y":6.5},{"x":-1.468,"y":5.1},{"x":-1.448,"y":3.9},{"x":-1.42,"y":2.9},{"x":-1.395,"y":2.2},{"x":-1.36,"y":1.55},{"x":-1.329,"y":1.1},{"x":-1.26,"y":0.7},{"x":-1.197,"y":0.47},{"x":-1.05,"y":0.33},{"x":-0.933,"y":0.26},{"x":-0.75,"y":0.28},{"x":-0.536,"y":0.34},{"x":-0.3,"y":0.42},{"x":-0.092,"y":0.47}
    ]},
     "mark":{"type":"line","color":"#111111","strokeWidth":1.8,"clip":true},
     "encoding":{"x":{"field":"x","type":"quantitative","scale":{"domain":[-3,0],"nice":false,"zero":false},"axis":null},
      "y":{"field":"y","type":"quantitative","scale":{"domain":[-27,13],"nice":false,"zero":false},"axis":null},"order":{"value":null}}},
    {"data":{"values":[{"x":-0.127,"x2":-0.563,"y":-1.59}]},"mark":{"type":"rule","color":"#111111","strokeWidth":1},
     "encoding":{"x":{"field":"x","type":"quantitative","scale":{"domain":[-3,0],"nice":false,"zero":false},"axis":null},"x2":{"field":"x2"},
      "y":{"field":"y","type":"quantitative","scale":{"domain":[-27,13],"nice":false,"zero":false},"axis":null}}},
    {"data":{"values":[{"x":-0.127,"x2":-0.563,"y":-1.59}]},"mark":{"type":"point","shape":"triangle-left","filled":true,"size":40,"color":"#111111","opacity":1},
     "encoding":{"x":{"field":"x2","type":"quantitative","scale":{"domain":[-3,0],"nice":false,"zero":false},"axis":null},
      "y":{"field":"y","type":"quantitative","scale":{"domain":[-27,13],"nice":false,"zero":false},"axis":null}}},
    {"data":{"values":[{"t":"Ia","x":-1.456,"y":10.1},{"t":"Ic","x":-1.536,"y":-24.5},{"t":"IIc","x":-2.492,"y":-24.5}]},
     "mark":{"type":"text","align":"left","baseline":"middle","fontSize":18,"fontWeight":"bold","font":"Liberation Serif","color":"#111111"},
     "encoding":{"text":{"field":"t"},
      "x":{"field":"x","type":"quantitative","scale":{"domain":[-3,0],"nice":false,"zero":false},
       "axis":{"orient":"top","labels":false,"title":null,"values":[-3,-2.5,-2,-1.5,-1,-0.5,0],"tickSize":{"condition":{"test":"datum.value % 1 === 0","value":-5},"value":-3}}},
      "y":{"field":"y","type":"quantitative","scale":{"domain":[-27,13],"nice":false,"zero":false},
       "axis":{"orient":"right","labels":false,"title":null,"values":[10,5,0,-5,-10,-15,-20,-25],"tickSize":{"condition":{"test":"datum.value % 10 === 0","value":-5},"value":-3}}}}},
    {"data":{"values":[{"t":"9oxy-BD","x":-2.77,"y":8.6}]},
     "mark":{"type":"text","align":"left","baseline":"middle","fontSize":31,"fontWeight":"bold","font":"Liberation Serif","color":"#111111"},
     "encoding":{"text":{"field":"t"},
      "x":{"field":"x","type":"quantitative","scale":{"domain":[-3,0],"nice":false,"zero":false},"axis":null},
      "y":{"field":"y","type":"quantitative","scale":{"domain":[-27,13],"nice":false,"zero":false},"axis":null}}}
   ]}
 ]}
]}
],
"config":{
 "view":{"stroke":"#222222","strokeWidth":1},
 "axis":{"domain":false,"grid":false,"labelFont":"Liberation Serif","labelFontSize":18,"labelColor":"#111111","tickColor":"#222222","tickWidth":1,
  "titleFont":"Liberation Serif","titleFontSize":20,"titleFontWeight":"bold","titleColor":"#111111","labelFlush":false,"labelOverlap":false}
}
}
